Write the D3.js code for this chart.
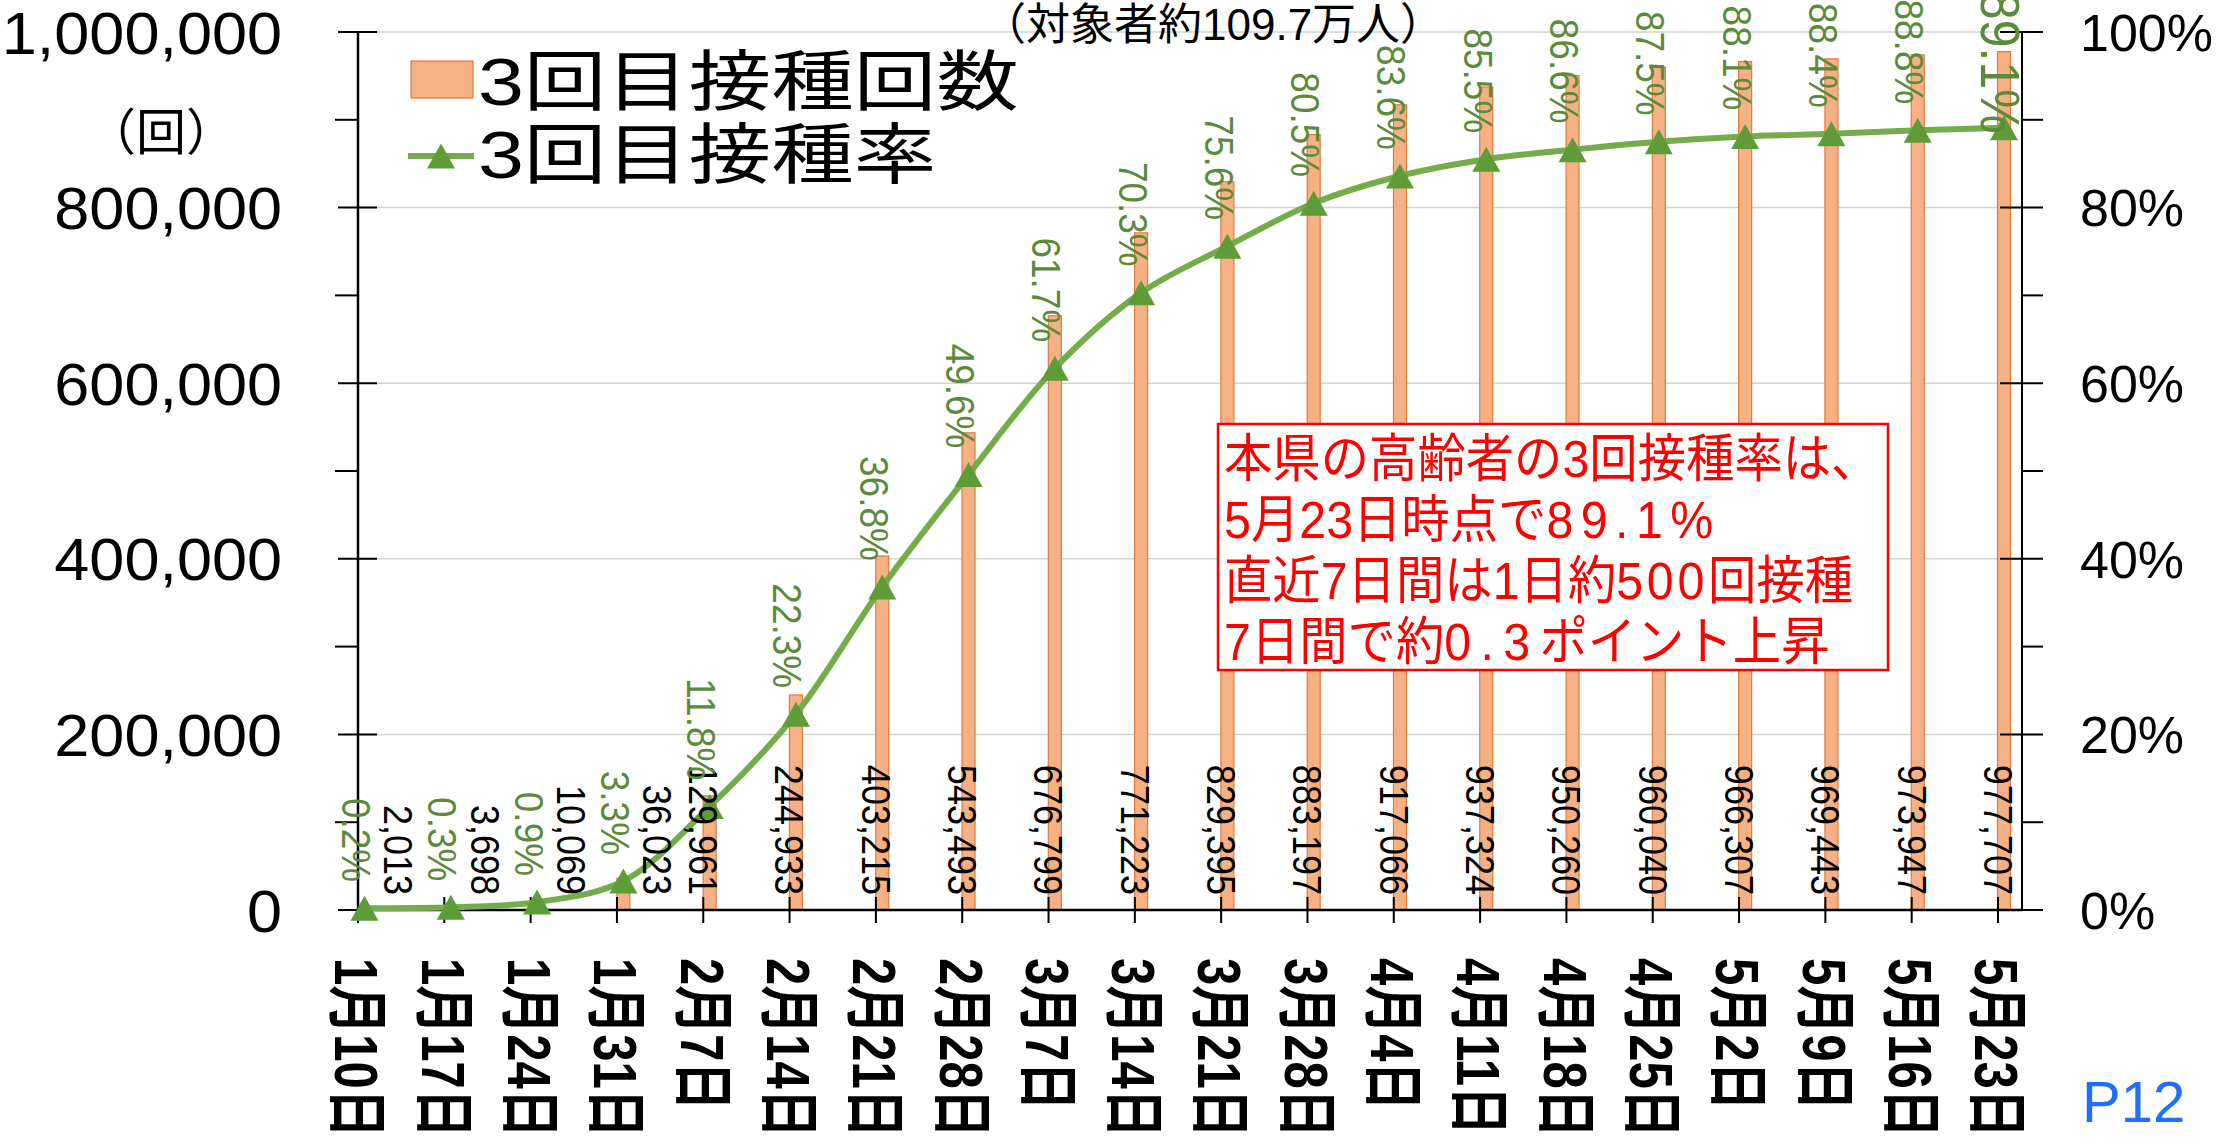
<!DOCTYPE html>
<html><head><meta charset="utf-8">
<script src="https://cdn.jsdelivr.net/npm/d3@7"></script>
<style>html,body{margin:0;padding:0;background:#fff;overflow:hidden}</style>
</head><body>
<svg id="c" width="2219" height="1144" xmlns="http://www.w3.org/2000/svg"></svg>
<script>
// ---- data ----
const dates = ["1月10日","1月17日","1月24日","1月31日","2月7日","2月14日","2月21日","2月28日","3月7日","3月14日","3月21日","3月28日","4月4日","4月11日","4月18日","4月25日","5月2日","5月9日","5月16日","5月23日"];
const counts = [2013,3698,10069,36023,129961,244933,403215,543493,676799,771223,829395,883197,917066,937324,950260,960040,966307,969443,973947,977707];
const rates = [0.2,0.3,0.9,3.3,11.8,22.3,36.8,49.6,61.7,70.3,75.6,80.5,83.6,85.5,86.6,87.5,88.1,88.4,88.8,89.1];
const leftTicks = [0,200000,400000,600000,800000,1000000];
const leftMinor = [100000,300000,500000,700000,900000];
const rightTicks = [0,20,40,60,80,100];
const rightMinor = [10,30,50,70,90];
const legendLabels = ["3回目接種回数","3回目接種率"];
// note lines as [text, letterSpacing] pieces
const noteLines = [
  [["本県の高齢者の3回接種率は、",0]],
  [["5月23日時点で",0],["89.1%",8]],
  [["直近7日間は1日約",0],["500",4],["回接種",0]],
  [["7日間で約",0],["0.3",10],["ポイント上昇",0]]
];
const subtitle = "（対象者約109.7万人）";
const unitLabel = "（回）";
const pageLabel = "P12";

// ---- layout ----
const L = 358, R = 2022, T = 32, B = 910;
const svg = d3.select("#c");
svg.append("rect").attr("width",2219).attr("height",1144).attr("fill","#fff");

const x = d3.scalePoint().domain(dates).range([364.5, 2004]);
const tx = d3.scalePoint().domain(dates).range([358, 1998]);
const yL = d3.scaleLinear().domain([0,1000000]).range([B,T]);
const yR = d3.scaleLinear().domain([0,100]).range([B,T]);

const latin = "'Liberation Sans', Arial, sans-serif";
const mix = "'Liberation Sans', 'Noto Sans CJK JP', sans-serif";
const barFill = "#F5B183", barStroke = "#E07B3C";
const lineCol = "#72AD49", markCol = "#5E9C37", rateCol = "#5B8A3A";

// gridlines
svg.append("g").selectAll("line").data(leftTicks.filter(d=>d>0)).join("line")
  .attr("x1",L).attr("x2",R).attr("y1",d=>yL(d)).attr("y2",d=>yL(d))
  .attr("stroke","#d3d3d3").attr("stroke-width",1.5);

// bars
svg.append("g").selectAll("rect").data(counts).join("rect")
  .attr("x",(d,i)=>x(dates[i])-6.5).attr("width",13)
  .attr("y",d=>yL(d)).attr("height",d=>B-yL(d))
  .attr("fill",barFill).attr("stroke",barStroke).attr("stroke-width",1.2);

// axes
const ax = svg.append("g").attr("stroke","#000");
ax.append("line").attr("x1",L).attr("x2",L).attr("y1",T).attr("y2",B).attr("stroke-width",2.5);
ax.append("line").attr("x1",R).attr("x2",R).attr("y1",T).attr("y2",B).attr("stroke-width",2);
ax.append("line").attr("x1",L).attr("x2",R).attr("y1",B).attr("y2",B).attr("stroke-width",2.5);
ax.selectAll(".lt").data(leftTicks).join("line").attr("x1",338).attr("x2",377)
  .attr("y1",d=>yL(d)).attr("y2",d=>yL(d)).attr("stroke-width",2);
ax.selectAll(".lm").data(leftMinor).join("line").attr("x1",335).attr("x2",L)
  .attr("y1",d=>yL(d)).attr("y2",d=>yL(d)).attr("stroke-width",2);
ax.selectAll(".rt").data(rightTicks).join("line").attr("x1",2000).attr("x2",2043)
  .attr("y1",d=>yR(d)).attr("y2",d=>yR(d)).attr("stroke-width",2);
ax.selectAll(".rm").data(rightMinor).join("line").attr("x1",R).attr("x2",2043)
  .attr("y1",d=>yR(d)).attr("y2",d=>yR(d)).attr("stroke-width",2);
ax.selectAll(".xt").data(dates).join("line").attr("x1",d=>tx(d)).attr("x2",d=>tx(d))
  .attr("y1",897).attr("y2",923).attr("stroke-width",2);

// tick labels
svg.append("g").selectAll("text").data(leftTicks).join("text")
  .attr("transform",d=>`translate(282,${yL(d)}) scale(1.05,1)`)
  .attr("dy","0.36em").attr("text-anchor","end")
  .attr("font-family",latin).attr("font-size",60).attr("fill","#000")
  .text(d=>d3.format(",")(d));
svg.append("g").selectAll("text").data(rightTicks).join("text")
  .attr("x",2080).attr("y",d=>yR(d)).attr("dy","0.36em")
  .attr("font-family",latin).attr("font-size",52).attr("fill","#000")
  .text(d=>d+"%");

// date labels (rotated)
svg.append("g").selectAll("text").data(dates).join("text")
  .attr("transform",d=>`translate(${tx(d)},958) scale(1.25,1) rotate(90)`)
  .attr("dy","0.37em").attr("font-family",mix).attr("font-weight",700)
  .attr("font-size",49).attr("fill","#000")
  .text(d=>d);

// line + markers
const line = d3.line().x((d,i)=>x(dates[i])).y(d=>yR(d)).curve(d3.curveCatmullRom.alpha(0.5));
svg.append("path").datum(rates).attr("d",line).attr("fill","none")
  .attr("stroke",lineCol).attr("stroke-width",6).attr("stroke-linejoin","round");
const tri = "M0,-12.5L14,12.5L-14,12.5Z";
svg.append("g").selectAll("path").data(rates).join("path")
  .attr("transform",(d,i)=>`translate(${x(dates[i])},${yR(d)})`)
  .attr("d",tri).attr("fill",markCol);

// count labels
svg.append("g").selectAll("text").data(counts).join("text")
  .attr("transform",(d,i)=>`translate(${i<4 ? x(dates[i])+34 : tx(dates[i])},895) scale(1.12,1) rotate(90)`)
  .attr("dy","0.35em").attr("text-anchor","end")
  .attr("font-family",latin).attr("font-size",36).attr("fill","#000")
  .text(d=>d3.format(",")(d));

// rate labels
const nR = rates.length;
svg.append("g").selectAll("text").data(rates).join("text")
  .attr("transform",(d,i)=> i===nR-1
      ? `translate(${x(dates[i])-3},${yR(d)+6}) scale(1.12,1) rotate(90)`
      : `translate(${x(dates[i])-8},${yR(d)-26}) scale(1.12,1) rotate(90)`)
  .attr("dy","0.35em").attr("text-anchor","end")
  .attr("font-family",latin).attr("font-size",(d,i)=>i===nR-1?50:37).attr("fill",rateCol)
  .text(d=>d.toFixed(1)+"%");

// legend
const lg = svg.append("g");
lg.append("rect").attr("x",411).attr("y",61).attr("width",62).attr("height",37)
  .attr("fill",barFill).attr("stroke",barStroke).attr("stroke-width",1.2);
lg.append("line").attr("x1",408).attr("x2",474).attr("y1",156).attr("y2",156)
  .attr("stroke",lineCol).attr("stroke-width",6);
lg.append("path").attr("transform","translate(441,156)").attr("d",tri).attr("fill",markCol);
lg.selectAll("text").data(legendLabels).join("text")
  .attr("transform",(d,i)=>`translate(478,${i===0?105:178}) scale(1.25,1)`)
  .attr("font-family",mix).attr("font-size",66).attr("fill","#000").text(d=>d);

// subtitle, unit
svg.append("text").attr("x",982).attr("y",40).attr("font-family",mix).attr("font-size",44)
  .attr("fill","#000").text(subtitle);
svg.append("text").attr("x",161).attr("y",150).attr("text-anchor","middle")
  .attr("font-family",mix).attr("font-size",50).attr("fill","#000").text(unitLabel);

// note box
const nb = svg.append("g");
nb.append("rect").attr("x",1218).attr("y",424).attr("width",670).attr("height",246)
  .attr("fill","#fff").attr("stroke","#ff0000").attr("stroke-width",2.5);
const nt = nb.selectAll("text").data(noteLines).join("text")
  .attr("transform",(d,i)=>`translate(1224,${477+i*61}) scale(0.93,1)`)
  .attr("font-family",mix).attr("font-size",52).attr("fill","#ff0000");
nt.selectAll("tspan").data(d=>d).join("tspan")
  .attr("letter-spacing",d=>d[1]).text(d=>d[0]);

// page label
svg.append("text").attr("x",2082).attr("y",1122).attr("font-family",latin)
  .attr("font-size",58).attr("fill","#1E6EFF").text(pageLabel);
</script>
</body></html>
